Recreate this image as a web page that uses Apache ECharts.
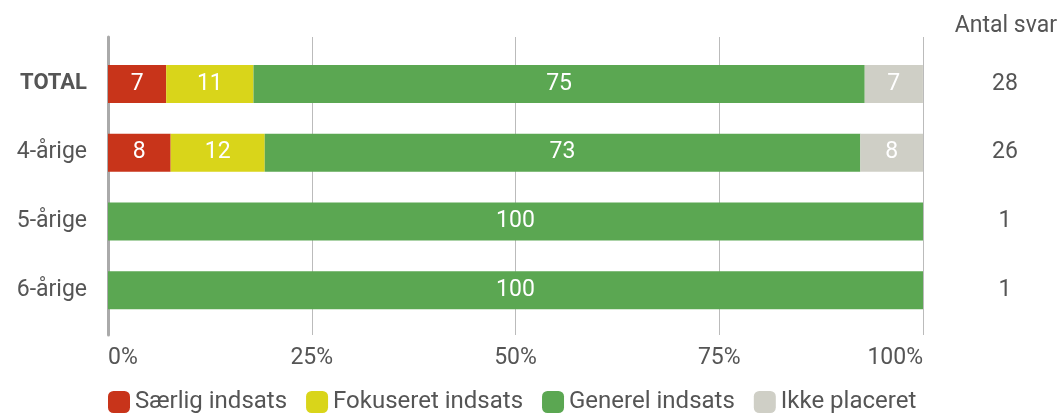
<!DOCTYPE html>
<html><head><meta charset="utf-8">
<script src="https://cdn.jsdelivr.net/npm/echarts@6/dist/echarts.min.js"></script>
<style>html,body{margin:0;padding:0;background:#fff}#c{width:1059px;height:414px}</style>
</head><body><div id="c"></div>
<script>
const categories = ['TOTAL', '4-årige', '5-årige', '6-årige'];
const antalSvar = ['28', '26', '1', '1'];
const seriesNames = ['Særlig indsats', 'Fokuseret indsats', 'Generel indsats', 'Ikke placeret'];
const saerlig = [7.14, 7.69, 0, 0];
const fokuseret = [10.71, 11.54, 0, 0];
const generel = [75.0, 73.08, 100, 100];
const ikke = [7.14, 7.69, 0, 0];
const xTicks = [0, 25, 50, 75, 100];
const colors = ['#C8341A', '#D9D51A', '#5BA752', '#CFCFC6'];

const FONT = 'Roboto';
const chart = echarts.init(document.getElementById('c'));
const values = [saerlig, fokuseret, generel, ikke];
chart.setOption({
  animation: false,
  textStyle: { fontFamily: FONT },
  title: {
    text: 'Antal svar', right: -3, top: 10,
    textStyle: { fontFamily: FONT, fontSize: 23, fontWeight: 'normal', color: '#555' }
  },
  legend: {
    left: 103, top: 385, itemWidth: 22, itemHeight: 22, itemGap: 19,
    icon: 'roundRect',
    textStyle: { fontFamily: FONT, fontSize: 24, color: '#555' },
    data: seriesNames
  },
  grid: [
    { left: 108, right: 136, top: 49.5, bottom: 89.5, containLabel: false },
    { left: 108, right: 136, top: 37, bottom: 79, containLabel: false }
  ],
  xAxis: [
    { gridIndex: 0, type: 'value', min: 0, max: 100, show: false },
    { gridIndex: 1, type: 'value', min: 0, max: 100, interval: 25,
      axisLine: { show: false }, axisTick: { show: false },
      splitLine: { show: true, lineStyle: { color: '#bbb', width: 1 } },
      axisLabel: { margin: 12, fontSize: 23, color: '#555', fontFamily: FONT,
        alignMinLabel: 'left', alignMaxLabel: 'right',
        formatter: v => xTicks.includes(v) ? v + '%' : '' } }
  ],
  yAxis: [
    { gridIndex: 0, type: 'category', data: categories, inverse: true,
      axisLine: { show: false }, axisTick: { show: false },
      axisLabel: { margin: 21, fontSize: 23, color: '#555', fontFamily: FONT,
        formatter: (v, i) => i === 0 ? '{b|' + v + '}' : v,
        rich: { b: { fontWeight: 'bold', fontSize: 22, color: '#555', fontFamily: FONT } } } },
    { gridIndex: 0, type: 'category', data: antalSvar, inverse: true, position: 'right',
      axisLine: { show: false }, axisTick: { show: false },
      axisLabel: { margin: 82, align: 'center', fontSize: 23, color: '#555', fontFamily: FONT } },
    { gridIndex: 1, type: 'category', data: categories,
      axisLine: { show: true, lineStyle: { color: '#aaa', width: 3 } },
      axisTick: { show: false }, axisLabel: { show: false } }
  ],
  series: seriesNames.map((name, k) => ({
    name, type: 'bar', stack: 'all', xAxisIndex: 0, yAxisIndex: 0,
    barWidth: 38,
    itemStyle: { color: colors[k] },
    label: { show: true, position: 'inside', color: '#fff', fontSize: 23, fontFamily: FONT,
      formatter: p => p.value > 0 ? Math.round(p.value) : '' },
    data: values[k]
  }))
});
</script></body></html>
